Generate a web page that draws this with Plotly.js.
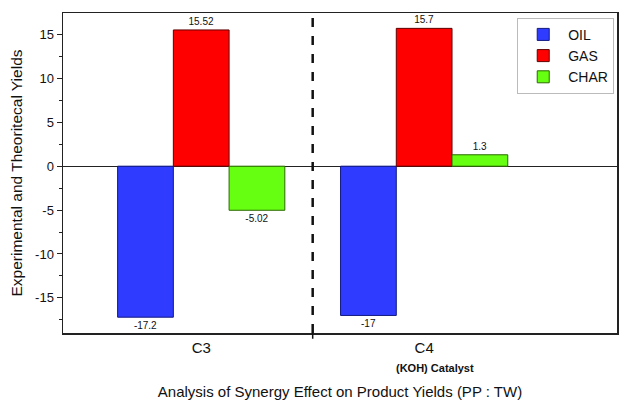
<!DOCTYPE html>
<html>
<head>
<meta charset="utf-8">
<script src="https://cdn.plot.ly/plotly-3.0.1.min.js"></script>
<style>html,body{margin:0;padding:0;background:#fff;}#chart{width:640px;height:400px;}</style>
</head>
<body>
<div id="chart"></div>
<script>
const categories = ["C3", "C4"];
const oilValues = [-17.2, -17];
const gasValues = [15.52, 15.7];
const charValues = [-5.02, 1.3];
const oilLabels = ["-17.2", "-17"];
const gasLabels = ["15.52", "15.7"];
const charLabels = ["-5.02", "1.3"];
const yTickVals = [-15, -10, -5, 0, 5, 10, 15];
const yTickText = ["-15", "-10", "-5", "0", "5", "10", "15"];

function barTrace(name, y, labels, color, line) {
  return {
    type: "bar", name: name, x: categories, y: y,
    text: labels, textposition: "outside", cliponaxis: false,
    textfont: {family: "Liberation Sans, Arial, sans-serif", size: 10, color: "#111"},
    marker: {color: color, line: {color: line, width: 1}},
    hoverinfo: "skip"
  };
}

const data = [
  barTrace("OIL", oilValues, oilLabels, "#2f3cff", "#101880"),
  barTrace("GAS", gasValues, gasLabels, "#ff0000", "#600000"),
  barTrace("CHAR", charValues, charLabels, "#66ff11", "#2a6a00")
];

const layout = {
  width: 640, height: 400,
  margin: {l: 63, r: 23, t: 13, b: 67},
  paper_bgcolor: "#fff", plot_bgcolor: "#fff",
  font: {family: "Liberation Sans, Arial, sans-serif", color: "#111"},
  barmode: "group", bargap: 0.25, bargroupgap: 0,
  showlegend: true,
  legend: {
    x: 0.995, y: 0.985, xanchor: "right", yanchor: "top",
    bgcolor: "#fff", bordercolor: "#bbb", borderwidth: 1,
    font: {size: 14, color: "#111"}, itemwidth: 40, tracegroupgap: 0
  },
  xaxis: {
    type: "category", range: [-0.62, 1.865],
    showline: true, linecolor: "#222", linewidth: 1.5, mirror: true,
    ticks: "", showgrid: false, zeroline: false,
    tickfont: {size: 15, color: "#111"},
    title: {text: "Analysis of Synergy Effect on Product Yields (PP : TW)", font: {size: 15, color: "#111"}, standoff: 36}
  },
  yaxis: {
    range: [-19, 17.45],
    tickvals: yTickVals, ticktext: yTickText,
    showline: true, linecolor: "#222", linewidth: 1.5, mirror: true,
    ticks: "outside", ticklen: 5, tickcolor: "#222",
    minor: {dtick: 2.5, ticks: "outside", ticklen: 3, tickcolor: "#222", showgrid: false},
    showgrid: false, zeroline: true, zerolinecolor: "#222", zerolinewidth: 1,
    tickfont: {size: 13, color: "#111"},
    title: {text: "Experimental and Theoritecal Yields", font: {size: 15.5, color: "#111"}, standoff: 8}
  },
  shapes: [
    {type: "line", xref: "x", yref: "paper", x0: 0.5, x1: 0.5, y0: 0, y1: 1,
     line: {color: "#111", width: 2.5, dash: "dash"}},
    {type: "line", xref: "x", yref: "paper", x0: 0.5, x1: 0.5, y0: 0, y1: -0.018,
     line: {color: "#111", width: 1.5}}
  ],
  annotations: [
    {text: "<b>(KOH) Catalyst</b>", xref: "x", yref: "paper", x: 1.05, y: -0.085,
     yanchor: "top", showarrow: false, font: {size: 11, color: "#111"}}
  ]
};

Plotly.newPlot("chart", data, layout, {displayModeBar: false, staticPlot: true});
</script>
</body>
</html>
